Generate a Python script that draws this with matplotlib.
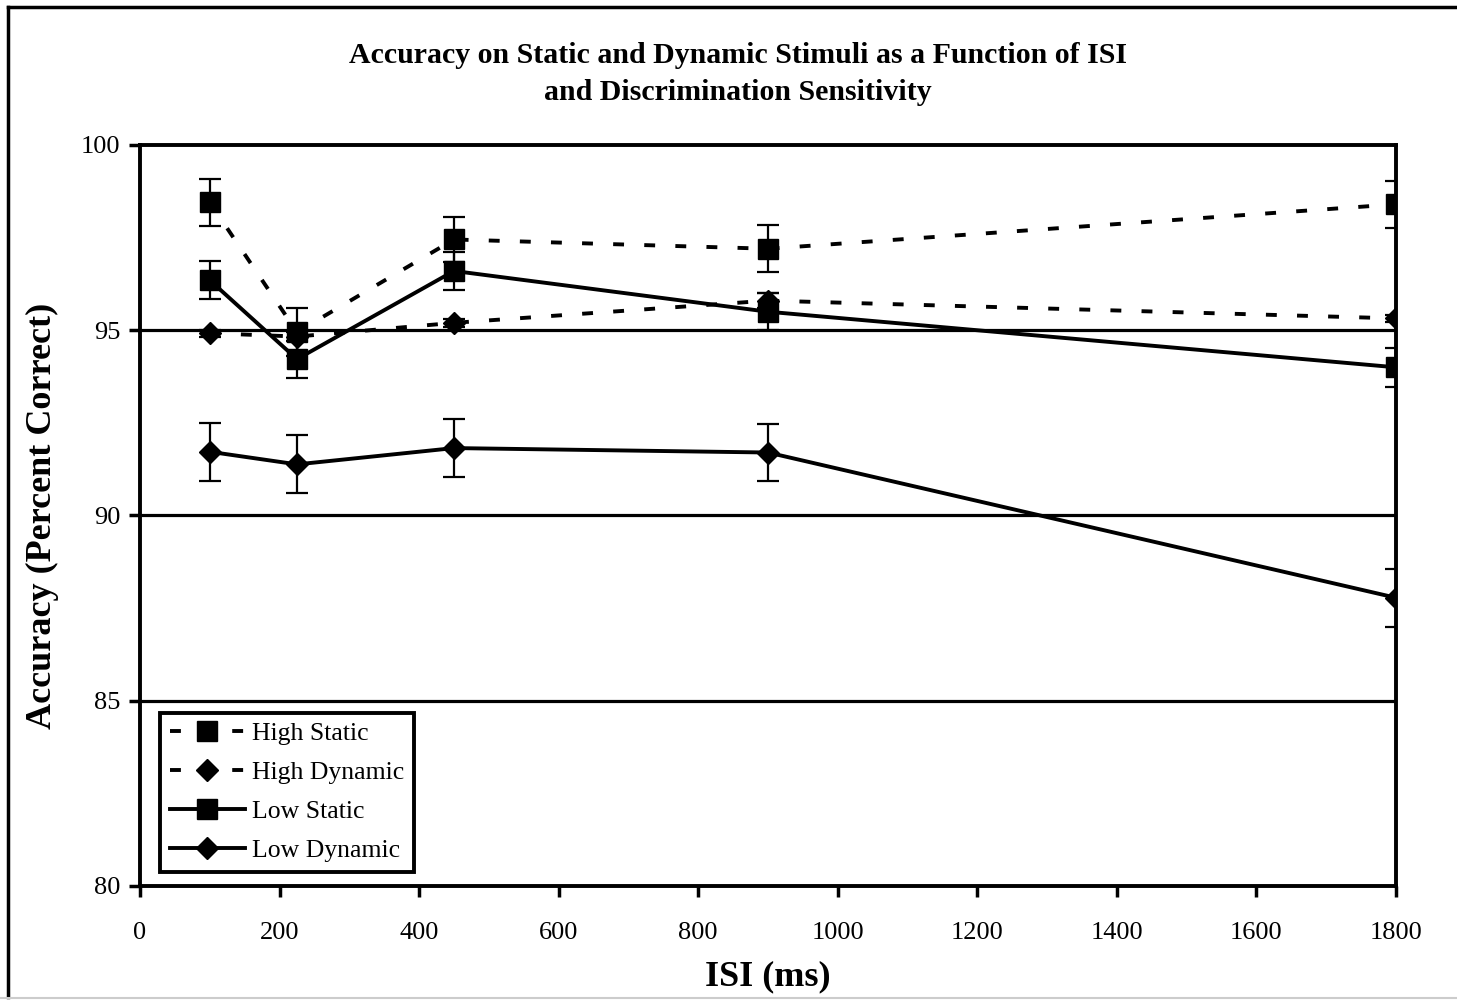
import matplotlib
matplotlib.use('Agg')
import matplotlib.pyplot as plt
from matplotlib.lines import Line2D

plt.rcParams['font.family'] = ['Liberation Serif', 'DejaVu Serif']

isi = [100, 225, 450, 900, 1800]

high_static = [98.45, 94.95, 97.45, 97.2, 98.4]
high_static_err = [0.63, 0.65, 0.62, 0.63, 0.63]
high_dynamic = [94.92, 94.83, 95.2, 95.8, 95.32]
high_dynamic_err = [0.1, 0.12, 0.1, 0.2, 0.1]
low_static = [96.35, 94.22, 96.6, 95.5, 94.0]
low_static_err = [0.52, 0.5, 0.52, 0.5, 0.53]
low_dynamic = [91.72, 91.38, 91.82, 91.7, 87.78]
low_dynamic_err = [0.78, 0.78, 0.78, 0.78, 0.78]

series = [
    ('High Static', high_static, high_static_err, 's', (0, (2.8, 5.2))),
    ('High Dynamic', high_dynamic, high_dynamic_err, 'D', (0, (2.8, 5.2))),
    ('Low Static', low_static, low_static_err, 's', '-'),
    ('Low Dynamic', low_dynamic, low_dynamic_err, 'D', '-'),
]

fig = plt.figure(figsize=(14.57, 10), dpi=100)
ax = fig.add_axes([0.0961, 0.114, 0.862, 0.741])

for y in [85, 90, 95]:
    ax.axhline(y, color='black', lw=2.3, zorder=1)

for name, vals, err, mk, ls in series:
    ms = 14 if mk == 's' else 11
    ax.errorbar(isi, vals, yerr=err, fmt='none', ecolor='black', elinewidth=1.6,
                capsize=8, capthick=1.6, zorder=2)
    ax.plot(isi, vals, color='black', lw=2.8, linestyle=ls, marker=mk,
            markersize=ms, markerfacecolor='black', markeredgecolor='black',
            zorder=3, label=name)

ax.set_xlim(0, 1800)
ax.set_ylim(80, 100)
ax.set_xticks(range(0, 1801, 200))
ax.set_yticks([80, 85, 90, 95, 100])
ax.tick_params(axis='both', direction='out', length=8, width=2.5,
               labelsize=19)
ax.tick_params(axis='x', pad=18)
ax.tick_params(axis='y', pad=6)
for s in ax.spines.values():
    s.set_linewidth(2.8)

ax.set_xlabel('ISI (ms)', fontsize=26, fontweight='bold', labelpad=12)
ax.set_ylabel('Accuracy (Percent Correct)', fontsize=26, fontweight='bold', labelpad=16)
fig.text(0.5065, 0.926, 'Accuracy on Static and Dynamic Stimuli as a Function of ISI\nand Discrimination Sensitivity',
         ha='center', va='center', fontsize=21.5, fontweight='bold', linespacing=1.5)

handles = []
for name, vals, err, mk, ls in series:
    ms = 14 if mk == 's' else 11
    handles.append(Line2D([], [], color='black', lw=2.8, linestyle=ls, marker=mk,
                          markersize=ms, markerfacecolor='black'))
leg = ax.legend(handles, [s[0] for s in series], loc='lower left',
                bbox_to_anchor=(0.012, 0.012), fontsize=18.5, frameon=True,
                fancybox=False, edgecolor='black', framealpha=1, handlelength=2.9,
                handletextpad=0.3, labelspacing=0.62, borderpad=0.38,
                borderaxespad=0.2)
leg.get_frame().set_linewidth(2.8)

# outer frame of the figure
fig.add_artist(Line2D([0.0055, 0.0055], [0.003, 0.993], color='black', lw=2.5,
                      transform=fig.transFigure))
fig.add_artist(Line2D([0.0055, 1.0], [0.993, 0.993], color='black', lw=2.5,
                      transform=fig.transFigure))
fig.add_artist(Line2D([0.0, 1.0], [0.002, 0.002], color='#cccccc', lw=1.5,
                      transform=fig.transFigure))

fig.savefig('out.png', dpi=100)
